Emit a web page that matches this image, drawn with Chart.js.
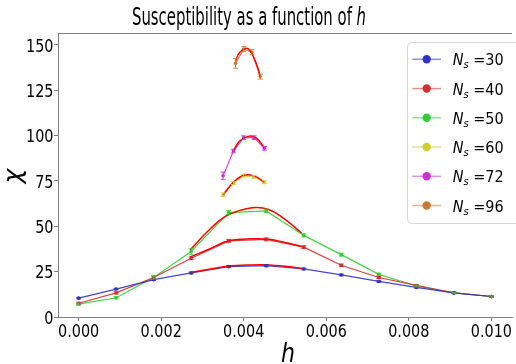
<!DOCTYPE html>
<html>
<head>
<meta charset="utf-8">
<script src="https://cdn.jsdelivr.net/npm/chart.js@4.4.0/dist/chart.umd.min.js"></script>
<style>
html, body { margin: 0; padding: 0; background: #fff; }
#wrap { width: 516px; height: 364px; position: relative; }
</style>
</head>
<body>
<div id="wrap"><canvas id="chiChart"></canvas></div>
<script>
// h values of the sweep, and values
var hMain = [0, 0.000909, 0.001818, 0.002727, 0.003636, 0.004545, 0.005455, 0.006364, 0.007273, 0.008182, 0.009091, 0.01];
var chi30 = [10.4, 15.4, 20.6, 24.3, 27.8, 28.3, 26.5, 23.2, 19.6, 16.3, 13.3, 11.3];
var chi40 = [7.6, 13.3, 21.8, 32.4, 42.0, 42.8, 38.5, 28.5, 21.8, 17.4, 13.3, 11.3];
var chi50 = [7.1, 10.6, 21.8, 36.1, 57.6, 58.5, 45.0, 34.4, 23.5, 17.1, 13.3, 11.3];
var err30 = [0.4, 0.4, 0.5, 0.5, 0.6, 0.6, 0.5, 0.5, 0.4, 0.4, 0.4, 0.4];
var err40 = [0.5, 0.6, 0.8, 0.8, 0.8, 0.8, 0.8, 0.7, 0.6, 0.5, 0.4, 0.4];
var err50 = [0.5, 0.6, 0.8, 1.5, 1.2, 1.0, 0.9, 0.8, 0.6, 0.5, 0.4, 0.4];

var hShort = [0.0035, 0.00375, 0.004, 0.00425, 0.0045];
var chi60 = [67.4, 73.8, 78.0, 77.2, 74.3];
var chi72 = [77.9, 91.5, 98.9, 98.9, 93.0];
var err60 = [1.0, 0.8, 0.8, 0.8, 0.8];
var err72 = [2.0, 1.0, 1.0, 1.0, 1.0];

var h96 = [0.0038, 0.004, 0.0042, 0.0044];
var chi96 = [139.8, 147.7, 146.0, 132.6];
var err96 = [2.6, 1.4, 1.4, 1.4];

// fitted curves (red)
var hFitWide = [0.0027, 0.0032, 0.0036, 0.0042, 0.0046, 0.005, 0.0054];
var fit30 = [24.5, 26.5, 28.0, 28.7, 28.7, 28.0, 26.9];
var fit40 = [33.1, 37.8, 41.8, 43.1, 42.9, 41.1, 38.9];
var fit50 = [37.0, 48.8, 56.0, 60.2, 59.3, 53.8, 46.3];
var hFit60 = [0.0035, 0.00375, 0.004, 0.00425, 0.0045];
var fit60 = [67.4, 74.3, 78.2, 77.8, 74.4];
var hFit72 = [0.00375, 0.0039, 0.0041, 0.0043, 0.0045];
var fit72 = [91.8, 97.0, 99.6, 98.8, 93.2];
var hFit96 = [0.0038, 0.0039, 0.0041, 0.0043, 0.0044];
var fit96 = [141.0, 145.8, 148.0, 140.0, 132.6];

var sizes = ['30', '40', '50', '60', '72', '96'];
var xTicks = [0, 0.002, 0.004, 0.006, 0.008, 0.010];
var yTicks = [0, 25, 50, 75, 100, 125, 150];

var markerColors = ['#3232c8', '#d03030', '#33cc33', '#cccc33', '#cc33cc', '#cc7a33'];
var lineColors = ['rgba(50,50,200,0.9)', 'rgba(208,48,48,0.9)', 'rgba(51,204,51,0.9)', 'rgba(204,204,51,0.9)', 'rgba(204,51,204,0.9)', 'rgba(204,122,51,0.9)'];
var legendLineColors = ['rgba(50,50,200,0.55)', 'rgba(208,48,48,0.55)', 'rgba(51,204,51,0.55)', 'rgba(204,204,51,0.55)', 'rgba(204,51,204,0.55)', 'rgba(204,122,51,0.55)'];

function pts(xs, ys) {
    return xs.map(function (x, i) { return {x: x, y: ys[i]}; });
}

var series = [
    [hMain, chi30, err30], [hMain, chi40, err40], [hMain, chi50, err50],
    [hShort, chi60, err60], [hShort, chi72, err72], [h96, chi96, err96]
];
var fits = [
    [hFitWide, fit30], [hFitWide, fit40], [hFitWide, fit50],
    [hFit60, fit60], [hFit72, fit72], [hFit96, fit96]
];

var datasets = [];
series.forEach(function (s, i) {
    datasets.push({
        label: 'N_s =' + sizes[i],
        data: pts(s[0], s[1]),
        errors: s[2],
        showLine: true,
        borderColor: lineColors[i],
        borderWidth: 1.2,
        backgroundColor: markerColors[i],
        pointBackgroundColor: markerColors[i],
        pointBorderColor: markerColors[i],
        pointRadius: 1.8,
        pointBorderWidth: 0,
        tension: 0,
        order: 2
    });
});
fits.forEach(function (f) {
    datasets.push({
        label: 'fit',
        data: pts(f[0], f[1]),
        showLine: true,
        borderColor: '#ff0000',
        borderWidth: 1.5,
        pointRadius: 0,
        tension: 0.4,
        order: 1
    });
});

// text squeezed horizontally like the original figure
function drawRich(ctx, parts, x, y, sx, align) {
    ctx.save();
    var w = 0;
    parts.forEach(function (p) { ctx.font = p.font; p.w = ctx.measureText(p.t).width; w += p.w; });
    var start = align === 'center' ? -w / 2 : (align === 'right' ? -w : 0);
    ctx.translate(x, y);
    ctx.scale(sx, 1);
    ctx.textAlign = 'left';
    ctx.textBaseline = 'alphabetic';
    ctx.fillStyle = '#000';
    var cx = start;
    parts.forEach(function (p) { ctx.font = p.font; ctx.fillText(p.t, cx, p.dy || 0); cx += p.w; });
    ctx.restore();
}

var FONT = '"DejaVu Sans"';

var errorBars = {
    id: 'errorBars',
    afterDatasetsDraw: function (chart) {
        var ctx = chart.ctx, ys = chart.scales.y;
        chart.data.datasets.forEach(function (ds, di) {
            if (!ds.errors) return;
            var meta = chart.getDatasetMeta(di);
            ctx.save();
            ctx.strokeStyle = ds.borderColor;
            ctx.lineWidth = 1;
            meta.data.forEach(function (el, i) {
                var e = ds.errors[i];
                var top = ys.getPixelForValue(ds.data[i].y + e);
                var bot = ys.getPixelForValue(ds.data[i].y - e);
                ctx.beginPath();
                ctx.moveTo(el.x, top); ctx.lineTo(el.x, bot);
                ctx.moveTo(el.x - 2.5, top); ctx.lineTo(el.x + 2.5, top);
                ctx.moveTo(el.x - 2.5, bot); ctx.lineTo(el.x + 2.5, bot);
                ctx.stroke();
            });
            ctx.restore();
        });
    }
};

var decorations = {
    id: 'decorations',
    afterDraw: function (chart) {
        var ctx = chart.ctx, a = chart.chartArea;
        var xs = chart.scales.x, ys = chart.scales.y;
        // top spine
        ctx.save();
        ctx.strokeStyle = '#808080';
        ctx.lineWidth = 1;
        ctx.beginPath();
        ctx.moveTo(a.left, a.top + 0.5); ctx.lineTo(a.right, a.top + 0.5);
        ctx.stroke();
        ctx.restore();

        // tick labels
        yTicks.forEach(function (v) {
            drawRich(ctx, [{t: String(v), font: '18px ' + FONT}], a.left - 4.5, ys.getPixelForValue(v) + 6.6, 0.8, 'right');
        });
        xTicks.forEach(function (v) {
            drawRich(ctx, [{t: v.toFixed(3), font: '18px ' + FONT}], xs.getPixelForValue(v), 336.7, 0.8, 'center');
        });

        // title
        drawRich(ctx, [
            {t: 'Susceptibility as a function of ', font: '24px ' + FONT},
            {t: 'h', font: 'italic 24px ' + FONT}
        ], 249, 25, 0.62, 'center');

        // axis labels
        drawRich(ctx, [{t: 'h', font: 'italic 26px ' + FONT}], 288, 362, 0.85, 'center');
        ctx.save();
        ctx.translate(21, 176);
        ctx.rotate(-Math.PI / 2);
        drawRich(ctx, [{t: '\u03c7', font: 'italic 25px ' + FONT}], 0, 0, 1, 'center');
        ctx.restore();

        // legend
        ctx.save();
        ctx.fillStyle = 'rgba(255,255,255,0.85)';
        ctx.strokeStyle = '#d6d6d6';
        ctx.lineWidth = 1;
        ctx.beginPath();
        ctx.roundRect(407.5, 42.5, 130, 181, 4);
        ctx.fill();
        ctx.stroke();
        ctx.restore();
        sizes.forEach(function (n, i) {
            var cy = 59.3 + i * 29.25;
            ctx.save();
            ctx.strokeStyle = legendLineColors[i];
            ctx.lineWidth = 1.5;
            ctx.beginPath();
            ctx.moveTo(412.3, cy); ctx.lineTo(441, cy);
            ctx.stroke();
            ctx.fillStyle = markerColors[i];
            ctx.beginPath();
            ctx.arc(426.7, cy, 4.2, 0, Math.PI * 2);
            ctx.fill();
            ctx.restore();
            drawRich(ctx, [
                {t: 'N', font: 'italic 16px ' + FONT},
                {t: 's', font: 'italic 11px ' + FONT, dy: 3},
                {t: ' =' + n, font: '16px ' + FONT}
            ], 452.7, cy + 6, 0.9, 'left');
        });
    }
};

var ctx = document.getElementById('chiChart').getContext('2d');
var chart = new Chart(ctx, {
    type: 'scatter',
    data: { datasets: datasets },
    options: {
        responsive: true,
        maintainAspectRatio: false,
        animation: false,
        devicePixelRatio: 1,
        layout: { padding: { top: 33, left: 0, right: 0, bottom: 0 } },
        plugins: {
            legend: { display: false },
            tooltip: { enabled: false },
            title: { display: false }
        },
        scales: {
            x: {
                type: 'linear',
                min: -0.0005,
                max: 0.0105,
                afterBuildTicks: function (s) { s.ticks = xTicks.map(function (v) { return {value: v}; }); },
                afterFit: function (s) { s.height = 47; },
                ticks: { display: false },
                grid: { drawOnChartArea: false, drawTicks: true, tickLength: 4, color: '#808080' },
                border: { display: true, color: '#808080', width: 1 }
            },
            y: {
                type: 'linear',
                min: 0,
                max: 156.6,
                afterBuildTicks: function (s) { s.ticks = yTicks.map(function (v) { return {value: v}; }); },
                afterFit: function (s) { s.width = 58; },
                ticks: { display: false },
                grid: { drawOnChartArea: false, drawTicks: true, tickLength: 4, color: '#808080' },
                border: { display: true, color: '#808080', width: 1 }
            }
        }
    },
    plugins: [errorBars, decorations]
});
</script>
</body>
</html>
